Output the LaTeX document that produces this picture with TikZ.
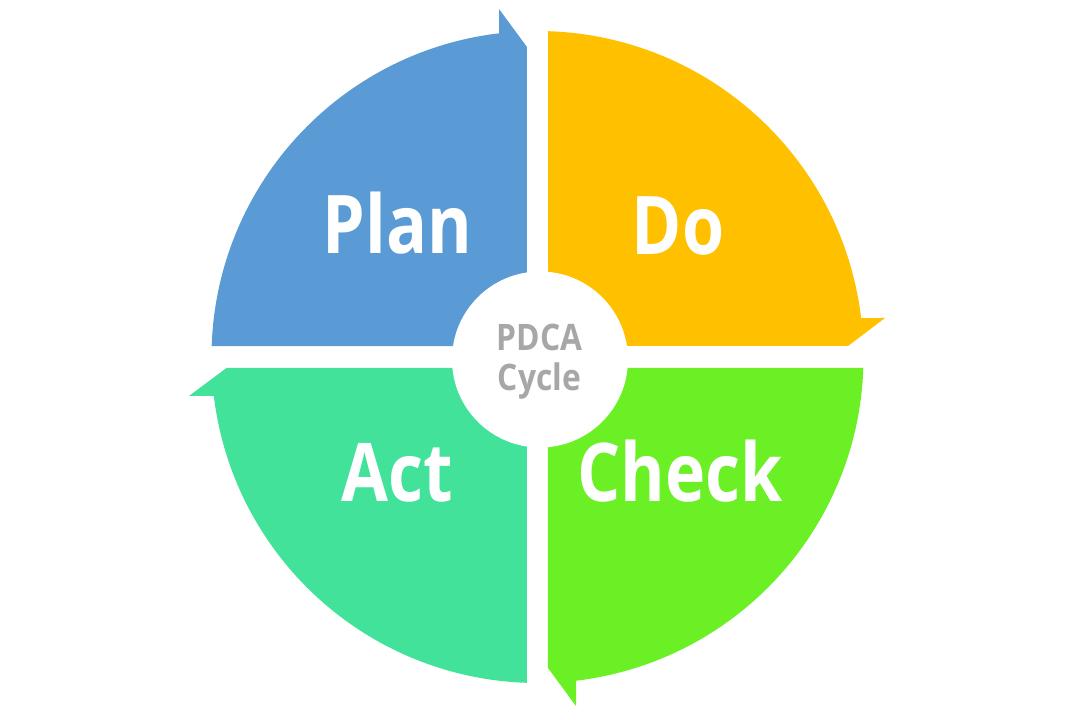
\documentclass[tikz,border=0pt]{standalone}
\usepackage{fontspec}
\newfontfamily\lblfont[FakeStretch=0.84]{Open Sans}
\newfontfamily\hubfont[FakeStretch=0.87]{Open Sans}
\definecolor{planblue}{HTML}{5B9BD5}
\definecolor{doyellow}{HTML}{FFC000}
\definecolor{checkgreen}{HTML}{6AF024}
\definecolor{actteal}{HTML}{42E29B}
\definecolor{hubgray}{HTML}{A8A6A6}
\tikzset{
  quad/.style={draw=none},
  lbl/.style={text=white, inner sep=0pt, anchor=base, font=\lblfont\bfseries\fontsize{81}{81}\selectfont},
  hubtxt/.style={text=hubgray, inner sep=0pt, anchor=base, font=\hubfont\bfseries\fontsize{36.5}{36.5}\selectfont},
}
\begin{document}
\begin{tikzpicture}[x=1pt,y=1pt]
\useasboundingbox (-537.5,-363) rectangle (542.5,357);
% Plan (top-left)
\fill[quad, planblue] (-10.5,11) -- (178.07:326) arc[start angle=178.07, end angle=96.76, radius=326]
  -- (-38.5,348) -- (-10.5,310) -- cycle;
% Do (top-right)
\fill[quad, doyellow] (10.5,11) -- (88.15:326) arc[start angle=88.15, end angle=6.87, radius=326]
  -- (347.5,39) -- (310.5,11) -- cycle;
% Check (bottom-right)
\fill[quad, checkgreen] (10.5,-11) -- (-1.93:326) arc[start angle=-1.93, end angle=-83.2, radius=326]
  -- (38.5,-349) -- (10.5,-311) -- cycle;
% Act (bottom-left)
\fill[quad, actteal] (-10.5,-11) -- (-91.85:326) arc[start angle=-91.85, end angle=-173.13, radius=326]
  -- (-348.5,-39) -- (-311,-11) -- cycle;
% hub
\node[circle, fill=white, minimum size=176pt, inner sep=0pt] (hub) at (2.5,-2.5) {};
\node[hubtxt] (pdca) at (2,6) {PDCA};
\node[hubtxt] (cycle) at (2,-33.7) {Cycle};
% labels
\node[lbl] (plan) at (-140,103) {Plan};
\node[lbl] (do) at (140.5,102) {Do};
\node[lbl] (act) at (-140,-145) {Act};
\node[lbl] (check) at (142.5,-145) {Check};
\end{tikzpicture}
\end{document}
